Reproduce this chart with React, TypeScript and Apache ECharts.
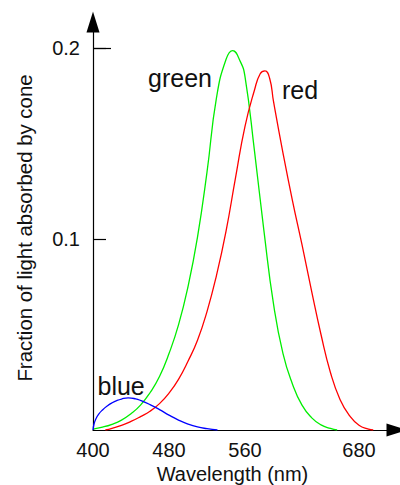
import React, { useEffect, useRef } from "react";
import * as echarts from "echarts";

const greenWl = [400, 410, 420, 430, 440, 450, 460, 470, 480, 490, 500, 510, 520, 530, 540, 547, 555, 560, 570, 580, 590, 600, 610, 620, 630, 640, 650, 657];
const greenVal = [0.0005, 0.0015, 0.003, 0.0052, 0.0085, 0.013, 0.0195, 0.028, 0.04, 0.055, 0.075, 0.101, 0.135, 0.174, 0.194, 0.1986, 0.193, 0.185, 0.146, 0.104, 0.066, 0.04, 0.024, 0.013, 0.0065, 0.0027, 0.0008, 0];

const redWl = [413, 420, 430, 440, 450, 460, 470, 480, 490, 500, 510, 520, 530, 540, 550, 560, 570, 576, 581, 586, 590, 600, 610, 620, 630, 640, 650, 660, 670, 680, 690, 695];
const redVal = [0, 0.0009, 0.0024, 0.0045, 0.007, 0.0098, 0.0138, 0.0193, 0.0265, 0.036, 0.047, 0.062, 0.081, 0.104, 0.132, 0.159, 0.178, 0.1865, 0.188, 0.184, 0.172, 0.145, 0.12, 0.097, 0.073, 0.05, 0.03, 0.016, 0.0075, 0.0025, 0.0005, 0];

const blueWl = [400, 401, 403, 406, 410, 415, 420, 425, 430, 437, 445, 450, 460, 470, 480, 490, 500, 510, 520, 531];
const blueVal = [0, 0.003, 0.0058, 0.0083, 0.0105, 0.0126, 0.0142, 0.0154, 0.0162, 0.0168, 0.0163, 0.0155, 0.0133, 0.0107, 0.0078, 0.0052, 0.0031, 0.0016, 0.0007, 0];

const xTickValues = [400, 480, 560, 680];
const yTickValues = [0.1, 0.2];
const xMin = 400;
const xMax = 720;
const yMax = 0.2136;

const xTitle = "Wavelength (nm)";
const yTitle = "Fraction of light absorbed by cone";
const seriesNames = ["green", "red", "blue"];

const FONT = '"Liberation Sans", Arial, Helvetica, sans-serif';

function zip(a: number[], b: number[]) {
  return a.map((x, i) => [x, b[i]]);
}

export default function App() {
  const ref = useRef<HTMLDivElement>(null);
  useEffect(() => {
    if (!ref.current) return;
    const chart = echarts.init(ref.current, null, { renderer: "svg" });
    const lineStyle = (c: string) => ({ color: c, width: 1.3 });
    const mk = (name: string, wl: number[], val: number[], color: string) => ({
      name,
      type: "line",
      data: zip(wl, val),
      showSymbol: false,
      symbol: "none",
      smooth: 0.5,
      lineStyle: lineStyle(color),
      itemStyle: { color },
    });
    chart.setOption({
      animation: false,
      backgroundColor: "#ffffff",
      grid: { left: 93, right: 3, top: 22, bottom: 55, containLabel: false, outerBoundsMode: "none" },
      xAxis: {
        type: "value",
        min: xMin,
        max: xMax,
        axisLine: { show: true, lineStyle: { color: "#000", width: 1.2 }, symbol: ["none", "triangle"], symbolSize: [13, 21] },
        axisTick: { show: false },
        splitLine: { show: false },
        axisLabel: {
          customValues: xTickValues,
          margin: 10,
          color: "#111",
          fontSize: 20,
          fontFamily: FONT,
        },
      },
      yAxis: [
        {
          type: "value",
          min: 0,
          max: yMax,
          axisLine: { show: true, lineStyle: { color: "#000", width: 1.2 }, symbol: ["none", "triangle"], symbolSize: [13, 21] },
          axisTick: { show: true, inside: true, length: 13, customValues: yTickValues, lineStyle: { color: "#000", width: 1.2 } },
          splitLine: { show: false },
          axisLabel: {
            customValues: yTickValues,
            margin: 13,
            color: "#111",
            fontSize: 20,
            fontFamily: FONT,
            formatter: (v: number) => v.toFixed(1),
          },
        },
        {
          type: "value",
          min: 0,
          max: yMax,
          position: "left",
          axisLine: { show: false },
          axisTick: { show: true, inside: true, length: 18, customValues: [yTickValues[1]], lineStyle: { color: "#000", width: 1.2 } },
          axisLabel: { show: false },
          splitLine: { show: false },
        },
      ],
      series: [
        mk(seriesNames[0], greenWl, greenVal, "#00ee00"),
        mk(seriesNames[1], redWl, redVal, "#ff0000"),
        mk(seriesNames[2], blueWl, blueVal, "#0000ff"),
      ],
      graphic: [
        { type: "text", x: 232.5, y: 474.4, style: { text: xTitle, font: `20px ${FONT}`, fill: "#111", align: "center", verticalAlign: "middle" } },
        { type: "text", x: 25, y: 228, rotation: Math.PI / 2, style: { text: yTitle, font: `20.4px ${FONT}`, fill: "#111", align: "center", verticalAlign: "middle" } },
        { type: "text", x: 148, y: 78, style: { text: seriesNames[0], font: `25px ${FONT}`, fill: "#111", align: "left", verticalAlign: "middle" } },
        { type: "text", x: 282, y: 90.3, style: { text: seriesNames[1], font: `25px ${FONT}`, fill: "#111", align: "left", verticalAlign: "middle" } },
        { type: "text", x: 97.5, y: 386.3, style: { text: seriesNames[2], font: `25px ${FONT}`, fill: "#111", align: "left", verticalAlign: "middle" } },
      ],
    });
    return () => chart.dispose();
  }, []);
  return <div ref={ref} style={{ position: "fixed", left: 0, top: 0, width: 400, height: 485 }} />;
}
